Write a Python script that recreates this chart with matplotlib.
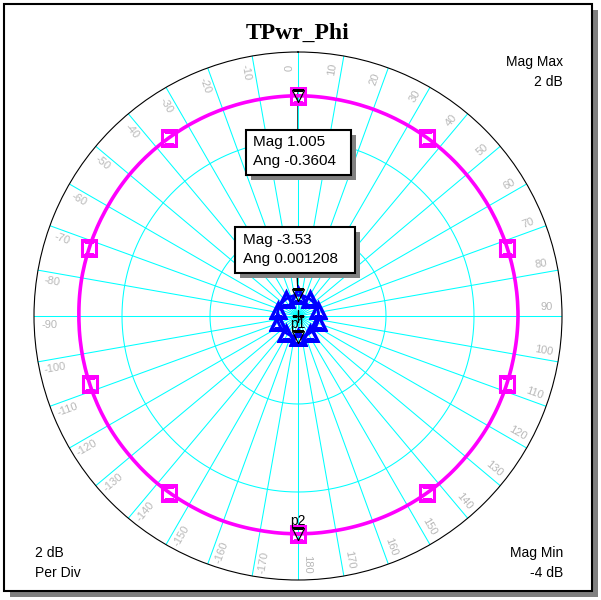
import numpy as np
import matplotlib
matplotlib.use("Agg")
import matplotlib.pyplot as plt
from matplotlib.patches import Rectangle, ConnectionPatch

plt.rcParams['font.family'] = ['Liberation Sans', 'DejaVu Sans']

# ---------------- data ----------------
title = "TPwr_Phi"
theta_deg = [-180, -170, -160, -150, -140, -130, -120, -110, -100, -90,
             -80, -70, -60, -50, -40, -30, -20, -10, 0,
             10, 20, 30, 40, 50, 60, 70, 80, 90,
             100, 110, 120, 130, 140, 150, 160, 170, 180]
mag_db = [0.95, 0.95, 0.96, 0.96, 0.97, 0.97, 0.98, 0.98, 0.98, 0.98,
          0.99, 0.99, 0.99, 1.0, 1.0, 1.0, 1.0, 1.0, 1.005,
          1.0, 1.0, 1.0, 1.0, 1.0, 1.0, 1.0, 1.0, 1.0,
          0.99, 0.99, 0.99, 0.98, 0.98, 0.97, 0.96, 0.95, 0.95]
blue_db = [-3.53, -3.53, -3.53, -3.53, -3.53, -3.53, -3.53, -3.53, -3.53, -3.53,
           -3.53, -3.53, -3.53, -3.53, -3.53, -3.53, -3.53, -3.53, -3.53,
           -3.53, -3.53, -3.53, -3.53, -3.53, -3.53, -3.53, -3.53, -3.53,
           -3.53, -3.53, -3.53, -3.53, -3.53, -3.53, -3.53, -3.53, -3.53]
sym_theta = [0, 36, 72, 108, 144, 180, -144, -108, -72, -36]
sym_mag = [1.005, 1.0, 1.0, 0.99, 0.98, 0.95, 0.98, 0.98, 0.99, 1.0]
sym_blue = [-3.53, -3.53, -3.53, -3.53, -3.53, -3.53, -3.53, -3.53, -3.53, -3.53]
mark_theta = [0, 180]
mark_mag = [1.005, 0.95]
mark_blue = [-3.53, -3.53]
r_min, r_max, r_step = -4, 2, 2
angle_ticks = list(range(-170, 190, 10))
box1 = ["Mag 1.005", "Ang -0.3604"]
box2 = ["Mag -3.53", "Ang 0.001208"]

# ---------------- figure ----------------
W, H = 601, 600
fig = plt.figure(figsize=(W / 100, H / 100), dpi=100)

bg = fig.add_axes([0, 0, 1, 1], zorder=0)
bg.set_xlim(0, W); bg.set_ylim(H, 0); bg.axis('off')
bg.add_patch(Rectangle((10, 10), 588, 587, fc='#808080', ec='none'))
bg.add_patch(Rectangle((4, 4), 588, 587, fc='white', ec='black', lw=1.5))

cx, cy, R = 298, 316, 264
pax = fig.add_axes([(cx - R) / W, (H - cy - R) / H, 2 * R / W, 2 * R / H],
                   projection='polar', zorder=1)
pax.set_facecolor('none')
pax.set_theta_zero_location('N')
pax.set_theta_direction(-1)
pax.set_ylim(r_min, r_max)
pax.grid(False)
pax.set_xticks([]); pax.set_yticks([])
pax.spines['polar'].set_color('black')
pax.spines['polar'].set_linewidth(0.8)

cyan = '#00ffff'
for a in range(0, 360, 10):
    pax.plot([np.deg2rad(a)] * 2, [r_min, r_max], color=cyan, lw=0.75, zorder=1)
tt = np.linspace(0, 2 * np.pi, 721)
for rr in range(r_min + r_step, r_max, r_step):
    pax.plot(tt, np.full_like(tt, rr), color=cyan, lw=0.75, zorder=1)

for a in angle_ticks:
    rot = 90 - a if a >= 0 else -90 - a
    if a == 180:
        rot = -90
    pax.text(np.deg2rad(a - 2), 1.65, str(a), rotation=rot, rotation_mode='anchor',
             ha='center', va='center', color='#b8b8b8', fontsize=8, zorder=2)

th = np.deg2rad(theta_deg)
ln_mag, = pax.plot(th, mag_db, color='#ff00ff', lw=2.6, zorder=3)
ln_mag.get_path()._interpolation_steps = 40
pax.plot(np.deg2rad(sym_theta), sym_mag, ls='none', marker='s', ms=10.5,
         mfc='none', mec='#ff00ff', mew=2.2, zorder=4)
ln_blue, = pax.plot(th, blue_db, color='#0000ff', lw=2.0, zorder=3)
ln_blue.get_path()._interpolation_steps = 40
pax.plot(np.deg2rad(sym_theta), sym_blue, ls='none', marker='^', ms=10,
         mfc='none', mec='#0000ff', mew=2.5, zorder=4)

pax.plot([0], [r_min], marker='+', color='black', ms=8, mew=1, zorder=6)

fg = fig.add_axes([0, 0, 1, 1], zorder=3)
fg.set_xlim(0, W); fg.set_ylim(H, 0); fg.axis('off')

# marker connector lines
con1 = ConnectionPatch(xyA=(np.deg2rad(mark_theta[0]), mark_mag[0] + 0.07), coordsA=pax.transData,
                       xyB=(298, 130), coordsB=fg.transData, color='black', lw=1.0)
con2 = ConnectionPatch(xyA=(np.deg2rad(mark_theta[0]), mark_blue[0] + 0.07), coordsA=pax.transData,
                       xyB=(297, 273), coordsB=fg.transData, color='black', lw=1.0)
fig.add_artist(con1); fig.add_artist(con2)

pax.plot(np.deg2rad(mark_theta), mark_mag, ls='none', marker='v', ms=8,
         mfc='none', mec='black', mew=0.9, zorder=7)
pax.plot(np.deg2rad(mark_theta), mark_blue, ls='none', marker='v', ms=8,
         mfc='none', mec='black', mew=0.9, zorder=7)
pax.annotate('p1', xy=(np.deg2rad(mark_theta[1]), mark_blue[1]), xytext=(0, 9),
             textcoords='offset points', ha='center', va='center', fontsize=10, zorder=8)
pax.annotate('p2', xy=(np.deg2rad(mark_theta[1]), mark_mag[1]), xytext=(0, 9),
             textcoords='offset points', ha='center', va='center', fontsize=10, zorder=8)

def data_box(x0, y0, x1, y1, lines, tx, ty1, ty2):
    fg.add_patch(Rectangle((x0 + 5, y0 + 5), x1 - x0, y1 - y0, fc='#808080', ec='none'))
    fg.add_patch(Rectangle((x0, y0), x1 - x0, y1 - y0, fc='white', ec='black', lw=1.5))
    fg.text(tx, ty1, lines[0], ha='left', va='center', fontsize=11)
    fg.text(tx, ty2, lines[1], ha='left', va='center', fontsize=11)

data_box(246, 130, 351, 175, box1, 253, 142, 161)
data_box(235, 227, 355, 273, box2, 243, 240, 259)

fg.text(298, 33, title, ha='center', va='center', fontsize=17, fontweight='bold',
        family=['Liberation Serif', 'DejaVu Serif'])
fg.text(563, 62, "Mag Max", ha='right', va='center', fontsize=10)
fg.text(563, 82, "2 dB", ha='right', va='center', fontsize=10)
fg.text(35, 553, "2 dB", ha='left', va='center', fontsize=10)
fg.text(35, 573, "Per Div", ha='left', va='center', fontsize=10)
fg.text(563, 553, "Mag Min", ha='right', va='center', fontsize=10)
fg.text(563, 573, "-4 dB", ha='right', va='center', fontsize=10)

fig.savefig('out.png', dpi=100)
